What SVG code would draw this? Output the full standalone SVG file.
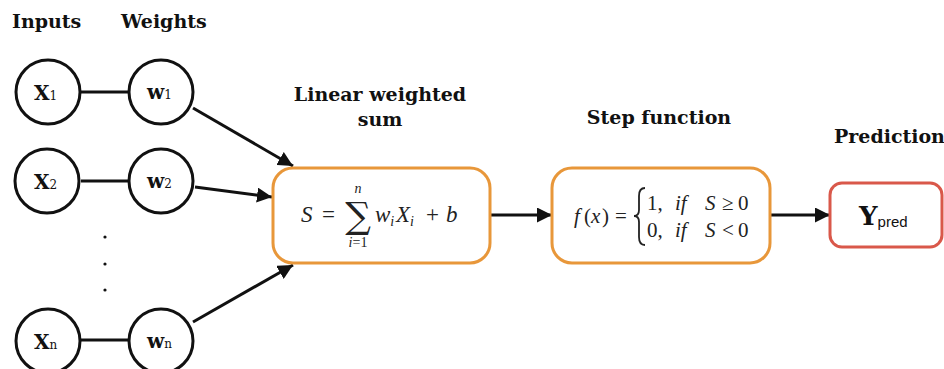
<svg xmlns="http://www.w3.org/2000/svg" width="944" height="369" viewBox="0 0 944 369">
<style>
.lbl{font-family:"DejaVu Serif",serif;font-size:19px;font-weight:bold;fill:#111}
.nd{fill:#fff;stroke:#111;stroke-width:3}
.nt{font-family:"DejaVu Serif",serif;font-weight:bold;font-size:20px;fill:#111}
.sub{font-family:"DejaVu Serif",serif;font-size:12px;font-weight:normal;fill:#111}
.ln{stroke:#111;stroke-width:3;fill:none}
.ob{fill:#fff;stroke:#e8973a;stroke-width:3}
.rb{fill:#fff;stroke:#d9584a;stroke-width:3}
.m{font-family:"Liberation Serif",serif;font-size:23px;fill:#222}
.m2{font-family:"Liberation Serif",serif;font-size:21px;fill:#222}
.mi{font-style:italic}
.sm{font-size:14px}
</style>
<defs>
<marker id="ah" viewBox="0 0 10 10" refX="10" refY="5" markerWidth="5" markerHeight="5" markerUnits="strokeWidth" orient="auto">
<path d="M0,0L10,5L0,10z" fill="#111"/>
</marker>
</defs>
<g id="labels">
<text class="lbl" x="12" y="28">Inputs</text>
<text class="lbl" x="121" y="28">Weights</text>
<text class="lbl" x="380" y="101" text-anchor="middle">Linear weighted</text>
<text class="lbl" x="380" y="126" text-anchor="middle">sum</text>
<text class="lbl" x="659" y="124" text-anchor="middle">Step function</text>
<text class="lbl" x="834" y="143">Prediction</text>
</g>
<g id="connectors">
<line class="ln" x1="81" y1="92" x2="128" y2="92"/>
<line class="ln" x1="81" y1="181" x2="128" y2="181"/>
<line class="ln" x1="81" y1="340" x2="128" y2="340"/>
<line class="ln" x1="193" y1="108" x2="293" y2="166" marker-end="url(#ah)"/>
<line class="ln" x1="195" y1="187" x2="272" y2="197" marker-end="url(#ah)"/>
<line class="ln" x1="193" y1="322" x2="293" y2="265" marker-end="url(#ah)"/>
<line class="ln" x1="490" y1="215" x2="552" y2="215" marker-end="url(#ah)"/>
<line class="ln" x1="770" y1="215" x2="830" y2="215" marker-end="url(#ah)"/>
</g>
<g id="dots" fill="#111">
<circle cx="105" cy="237" r="1.6"/>
<circle cx="105" cy="264" r="1.6"/>
<circle cx="105" cy="290" r="1.6"/>
</g>
<g id="x1"><circle class="nd" cx="48" cy="92" r="32"/><text class="nt" x="34" y="100">X<tspan class="sub">1</tspan></text></g>
<g id="w1"><circle class="nd" cx="161" cy="92" r="32"/><text class="nt" x="147" y="99">w<tspan class="sub">1</tspan></text></g>
<g id="x2"><circle class="nd" cx="47" cy="181" r="32"/><text class="nt" x="34" y="189">X<tspan class="sub">2</tspan></text></g>
<g id="w2"><circle class="nd" cx="161" cy="181" r="32"/><text class="nt" x="147" y="188">w<tspan class="sub">2</tspan></text></g>
<g id="xn"><circle class="nd" cx="48" cy="341" r="32"/><text class="nt" x="34" y="349">X<tspan class="sub">n</tspan></text></g>
<g id="wn"><circle class="nd" cx="161" cy="341" r="32"/><text class="nt" x="147" y="348">w<tspan class="sub">n</tspan></text></g>
<g id="sum">
<rect class="ob" x="273" y="168" width="217" height="95" rx="20"/>
<text class="m" y="222"><tspan class="mi" x="301">S</tspan><tspan x="322">=</tspan></text>
<text x="358" y="228" text-anchor="middle" style="font-family:'DejaVu Serif',serif;font-size:36px;fill:#222">∑</text>
<text class="m mi sm" x="358" y="193" text-anchor="middle">n</text>
<text class="m sm" x="358" y="247" text-anchor="middle"><tspan class="mi">i</tspan>=1</text>
<text class="m" y="222"><tspan class="mi" x="375">w</tspan><tspan class="mi sm" dy="4">i</tspan><tspan class="mi" x="396" dy="-4">X</tspan><tspan class="mi sm" dy="4">i</tspan><tspan x="426" dy="-4">+</tspan><tspan class="mi" x="446">b</tspan></text>
</g>
<g id="step">
<rect class="ob" x="552" y="168" width="218" height="95" rx="20"/>
<text class="m2" y="223"><tspan class="mi" x="574">f</tspan><tspan x="584">(</tspan><tspan class="mi" x="591">x</tspan><tspan x="602">)</tspan><tspan x="615">=</tspan></text>
<path d="M645,188 Q639,188 639,196 L639,210 Q639,216 634,216 Q639,216 639,222 L639,237 Q639,245 645,245" fill="none" stroke="#222" stroke-width="1.8"/>
<text class="m2" y="210"><tspan x="647">1,</tspan><tspan class="mi" x="675">if</tspan><tspan class="mi" x="705">S</tspan><tspan x="722">≥</tspan><tspan x="738">0</tspan></text>
<text class="m2" y="237"><tspan x="647">0,</tspan><tspan class="mi" x="675">if</tspan><tspan class="mi" x="705">S</tspan><tspan x="722">&lt;</tspan><tspan x="738">0</tspan></text>
</g>
<g id="pred">
<rect class="rb" x="830" y="183" width="112" height="64" rx="12"/>
<text class="nt" x="859" y="225" style="font-size:26px">Y<tspan style="font-family:'Liberation Sans',sans-serif;font-weight:normal;font-size:15px" dy="2">pred</tspan></text>
</g>
</svg>
